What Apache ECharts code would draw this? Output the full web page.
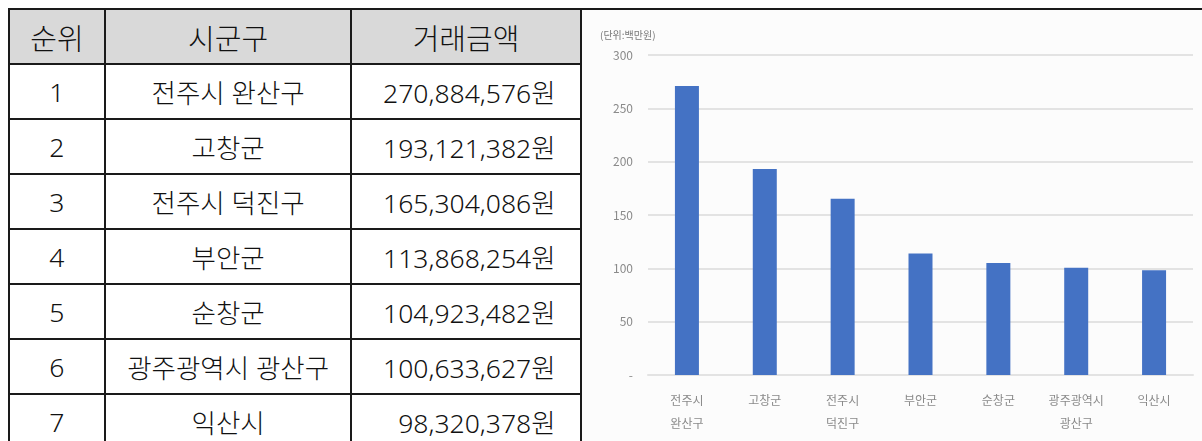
<!DOCTYPE html>
<html>
<head>
<meta charset="utf-8">
<script src="https://cdn.jsdelivr.net/npm/echarts@6/dist/echarts.min.js"></script>
<style>
  body {
    margin: 0;
    padding: 0;
    width: 1202px;
    height: 441px;
    overflow: hidden;
    background: #fff;
    position: relative;
  }
  #rankTable {
    position: absolute;
    left: 8px;
    top: 8px;
    border-collapse: collapse;
    table-layout: fixed;
    font-family: "Noto Sans", "Noto Sans CJK KR", sans-serif;
    color: #111;
  }
  #rankTable td,
  #rankTable th {
    border: 2px solid #1a1a1a;
    padding: 0;
    text-align: center;
    vertical-align: middle;
    font-weight: 300;
    white-space: nowrap;
  }
  #rankTable th {
    background: #d9d9d9;
    font-size: 29px;
    height: 53px;
  }
  #rankTable td {
    font-size: 26.5px;
    height: 53px;
  }
  #rankTable td.amount {
    text-align: right;
    padding-right: 24px;
  }
  #rankTable td.chartCell {
    background: #fcfcfc;
    border-right: none;
    border-bottom: none;
  }
  #chart {
    position: absolute;
    left: 585px;
    top: 11px;
    width: 617px;
    height: 430px;
  }
</style>
</head>
<body>
<table id="rankTable">
  <colgroup>
    <col style="width: 97px">
    <col style="width: 248px">
    <col style="width: 230px">
    <col style="width: 640px">
  </colgroup>
  <tbody id="tableBody">
    <tr id="headRow"></tr>
  </tbody>
</table>
<div id="chart"></div>

<script>
// 표 머리글
const headers = ["순위", "시군구", "거래금액"];
// 순위별 시군구, 거래금액(원)
const ranks = [1, 2, 3, 4, 5, 6, 7];
const regions = ["전주시 완산구", "고창군", "전주시 덕진구", "부안군", "순창군", "광주광역시 광산구", "익산시"];
const amounts = [270884576, 193121382, 165304086, 113868254, 104923482, 100633627, 98320378];
// 차트 축 라벨 (두 줄)
const chartLabels = ["전주시\n완산구", "고창군", "전주시\n덕진구", "부안군", "순창군", "광주광역시\n광산구", "익산시"];
// 차트 값 (단위: 백만원)
const chartValues = [270.88, 193.12, 165.30, 113.87, 104.92, 100.63, 98.32];
const yTicks = { min: 0, max: 300, interval: 50 };

// 1. 표 그리기
let headRow = document.querySelector("#headRow");
headers.forEach((h) => {
  let th = document.createElement("th");
  th.textContent = h;
  headRow.appendChild(th);
});
let chartTd = document.createElement("td");
chartTd.className = "chartCell";
chartTd.rowSpan = 8;
headRow.appendChild(chartTd);

let tbody = document.querySelector("#tableBody");
ranks.forEach((r, i) => {
  let tr = document.createElement("tr");
  let td1 = document.createElement("td");
  td1.textContent = r;
  let td2 = document.createElement("td");
  td2.textContent = regions[i];
  let td3 = document.createElement("td");
  td3.className = "amount";
  td3.textContent = amounts[i].toLocaleString("en-US") + "원";
  tr.appendChild(td1);
  tr.appendChild(td2);
  tr.appendChild(td3);
  tbody.appendChild(tr);
});

// 2. 차트 그리기
let chartDom = document.querySelector("#chart");
let myChart = echarts.init(chartDom);
let option = {
  animation: false,
  textStyle: {
    fontFamily: "Noto Sans CJK KR",
  },
  title: {
    text: "(단위:백만원)",
    left: 10,
    top: 14,
    textStyle: {
      fontSize: 10,
      fontWeight: "normal",
      color: "#777",
    },
  },
  grid: {
    left: 63,
    right: 9,
    top: 44,
    bottom: 66,
  },
  xAxis: {
    type: "category",
    data: chartLabels,
    axisLine: {
      show: true,
      lineStyle: { color: "#e3e3e3", width: 2 },
    },
    axisTick: { show: false },
    axisLabel: {
      color: "#8a8a8a",
      fontSize: 12,
      lineHeight: 23,
      margin: 14,
      interval: 0,
    },
  },
  yAxis: {
    type: "value",
    min: yTicks.min,
    max: yTicks.max,
    interval: yTicks.interval,
    axisLine: { show: false },
    axisTick: { show: false },
    splitLine: {
      lineStyle: { color: "#e3e3e3", width: 2 },
    },
    axisLabel: {
      color: "#8a8a8a",
      fontSize: 12,
      margin: 15,
      formatter: (v) => (v === 0 ? "-" : v),
    },
  },
  series: [
    {
      type: "bar",
      data: chartValues,
      barWidth: 24,
      itemStyle: { color: "#4472c4" },
    },
  ],
};
myChart.setOption(option);
</script>
</body>
</html>
